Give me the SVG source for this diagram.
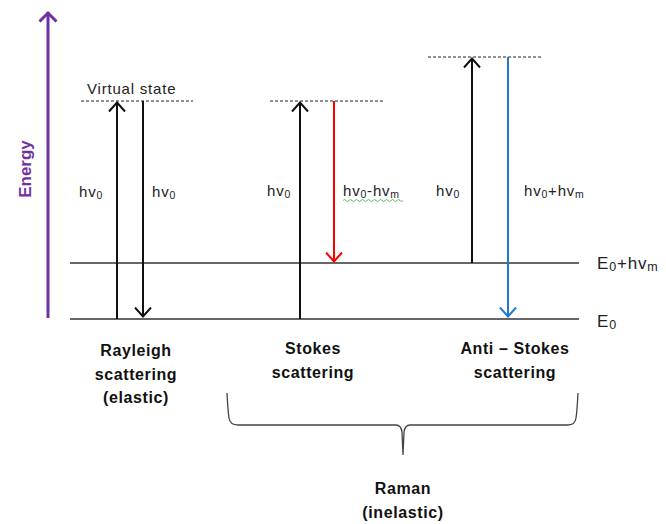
<svg xmlns="http://www.w3.org/2000/svg" width="666" height="524" viewBox="0 0 666 524">
<style>
.lvl{stroke:#333;stroke-width:1.3;fill:none}
.dash{stroke:#222;stroke-width:1;stroke-dasharray:3,2;fill:none}
.ar{stroke-width:2;fill:none}
.t{font-family:"Liberation Sans",Arial,sans-serif;font-size:15px;letter-spacing:0.8px;fill:#222}
.e{font-family:"Liberation Sans",Arial,sans-serif;font-size:17px;letter-spacing:0.8px;fill:#222}
.b{font-family:"Liberation Sans",Arial,sans-serif;font-size:16px;font-weight:bold;letter-spacing:0.6px;fill:#111;text-anchor:middle}
.s{font-size:10.5px}
</style>
<defs>
<marker id="hk" viewBox="0 0 12 18" refX="10.5" refY="9" markerWidth="12" markerHeight="18" markerUnits="userSpaceOnUse" orient="auto"><path d="M1,1 L10,9 L1,17" fill="none" stroke="context-stroke" stroke-width="2"/></marker>
<marker id="hkp" viewBox="0 0 14 20" refX="11" refY="10" markerWidth="14" markerHeight="20" markerUnits="userSpaceOnUse" orient="auto"><path d="M1.5,1.5 L10,10 L1.5,18.5" fill="none" stroke="#7030A0" stroke-width="3"/></marker>
</defs>
<rect width="666" height="524" fill="#fff"/>
<g id="axis">
<line x1="48" y1="318" x2="48" y2="12" stroke="#7030A0" stroke-width="3" marker-end="url(#hkp)"/>
<text transform="translate(31,169) rotate(-90)" text-anchor="middle" font-family="Liberation Sans,Arial,sans-serif" font-size="17" font-weight="bold" fill="#7030A0">Energy</text>
</g>
<g id="levels">
<line class="lvl" x1="70" y1="263" x2="579" y2="263"/>
<line class="lvl" x1="70" y1="319" x2="579" y2="319"/>
<text class="e" x="597" y="269">E<tspan font-size="12.5" dy="1.5">0</tspan><tspan dy="-1.5">+hv</tspan><tspan font-size="12.5" dy="1.5">m</tspan></text>
<text class="e" x="597" y="327">E<tspan font-size="12.5" dy="1.5">0</tspan></text>
</g>
<g id="rayleigh">
<line class="dash" x1="81" y1="101" x2="193" y2="101"/>
<text class="t" x="87" y="94">Virtual state</text>
<text class="t" x="79" y="197">hv<tspan class="s" dy="2">0</tspan></text>
<text class="t" x="152" y="197">hv<tspan class="s" dy="2">0</tspan></text>
</g>
<g id="stokes">
<line class="dash" x1="270" y1="101" x2="383" y2="101"/>
<text class="t" x="267" y="196">hv<tspan class="s" dy="2">0</tspan></text>
<text class="t" x="343" y="196" fill="#FF0000">hv<tspan class="s" dy="2">0</tspan><tspan dy="-2">-hv</tspan><tspan class="s" dy="2">m</tspan></text>
<path d="M343,200.5 q1.5,-2 3,0 t3,0 t3,0 t3,0 t3,0 t3,0 t3,0 t3,0 t3,0 t3,0 t3,0 t3,0 t3,0 t3,0 t3,0 t3,0 t3,0 t3,0 t3,0 t3,0" fill="none" stroke="#3cae3c" stroke-width="0.8"/>
</g>
<g id="antistokes">
<line class="dash" x1="428" y1="57" x2="541" y2="57"/>
<text class="t" x="436" y="196">hv<tspan class="s" dy="2">0</tspan></text>
<text class="t" x="524" y="196" fill="#1F7BC7">hv<tspan class="s" dy="2">0</tspan><tspan dy="-2">+hv</tspan><tspan class="s" dy="2">m</tspan></text>
</g>
<g id="connectors">
<line class="ar" x1="117" y1="319" x2="117" y2="102" stroke="#111" marker-end="url(#hk)"/>
<line class="ar" x1="143" y1="101" x2="143" y2="317" stroke="#111" marker-end="url(#hk)"/>
<line class="ar" x1="300" y1="319" x2="300" y2="102" stroke="#111" marker-end="url(#hk)"/>
<line class="ar" x1="334" y1="101" x2="334" y2="262" stroke="#FF0000" marker-end="url(#hk)"/>
<line class="ar" x1="472" y1="263" x2="472" y2="58" stroke="#111" marker-end="url(#hk)"/>
<line class="ar" x1="508" y1="57" x2="508" y2="317" stroke="#1F7BC7" marker-end="url(#hk)"/>
</g>
<g id="labels">
<text class="b" x="136" y="356">Rayleigh</text>
<text class="b" x="136" y="380">scattering</text>
<text class="b" x="136" y="403">(elastic)</text>
<text class="b" x="313" y="354">Stokes</text>
<text class="b" x="313" y="378">scattering</text>
<text class="b" x="515" y="354">Anti – Stokes</text>
<text class="b" x="515" y="378">scattering</text>
<text class="b" x="403" y="494">Raman</text>
<text class="b" x="403" y="518">(inelastic)</text>
</g>
<g id="brace">
<path d="M227,393 Q228,412 229,418 Q230,425 238,425 L396,425 Q401,425 402,432 L403,455 M403,455 L404,432 Q405,425 410,425 L568,425 Q575,425 576,418 Q577,412 578,393" fill="none" stroke="#444" stroke-width="1.3"/>
</g>
</svg>
